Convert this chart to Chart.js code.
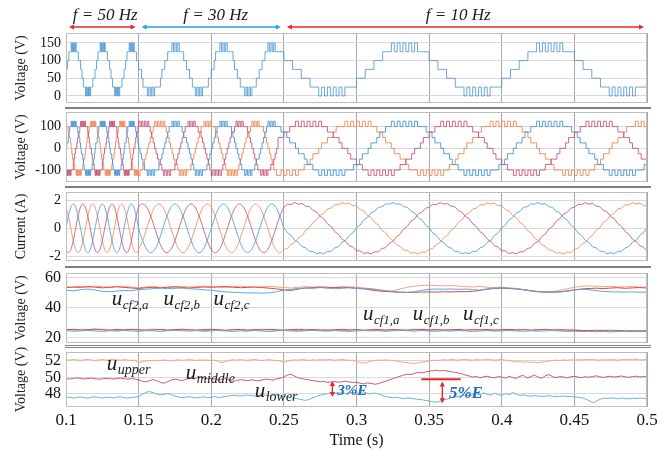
<!DOCTYPE html>
<html>
<head>
<meta charset="utf-8">
<script src="https://cdn.jsdelivr.net/npm/chart.js@4.4.1/dist/chart.umd.min.js"></script>
<style>
  html, body { margin: 0; padding: 0; background: #fff; }
  #wrap { position: relative; width: 671px; height: 452px; overflow: hidden; }
  #wrap canvas { position: absolute; left: 0; }
</style>
</head>
<body>
<div id="wrap">
  <canvas id="pole" width="671" height="104" style="top:0px"></canvas>
  <canvas id="phase" width="671" height="79" style="top:104px"></canvas>
  <canvas id="current" width="671" height="79" style="top:183px"></canvas>
  <canvas id="flying" width="671" height="82" style="top:262px"></canvas>
  <canvas id="dc" width="671" height="108" style="top:344px"></canvas>
</div>
<script>
// ---- axis ticks ----
const timeTicks = [0.1, 0.15, 0.2, 0.25, 0.3, 0.35, 0.4, 0.45, 0.5];
const poleTicks = [0, 50, 100, 150];
const phaseTicks = [-100, 0, 100];
const currentTicks = [-2, 0, 2];
const flyTicks = [20, 40, 60];
const dcTicks = [48, 50, 52];

// ---- sample clocks (start time, step) ----
const vClock50 = { t0: 0.100, dt: 0.0005 };
const vClock30 = { t0: 0.150, dt: 0.001 };
const vClock10 = { t0: 0.246, dt: 0.002 };
const iClock50 = { t0: 0.100, dt: 0.05 / 30 };
const iClock30 = { t0: 0.150 + 0.1 / 36, dt: 0.1 / 36 };
const iClock10 = { t0: 0.250, dt: 0.0025 };
const capClock = { t0: 0.100, dt: 0.005 };
const dcClock = { t0: 0.100, dt: 0.0025 };

// ---- module output voltage, phase a (V) ----
const pole50 = [
  75,75,100,100,125,125,125,150,125,150,125,150,125,150,125,125,125,100,100,100,
  75,75,50,50,25,25,25,0,25,0,25,0,25,0,25,25,25,50,50,50,
  75,75,100,100,125,125,125,150,125,150,125,150,125,150,125,125,125,100,100,100,
  75,75,50,50,25,25,25,0,25,0,25,0,25,0,25,25,25,50,50,50,
  75,75,100,100,125,125,125,150,125,150,125,150,125,150,125,125,125,100,100,100];
const pole30 = [
  75,75,50,25,25,25,0,25,0,25,
  0,25,25,25,25,50,75,75,100,100,
  125,125,125,150,125,150,125,150,125,125,
  125,100,100,75,75,50,50,25,25,0,
  25,0,25,0,25,25,25,25,50,50,
  75,75,100,125,125,125,150,125,150,125,
  150,125,125,125,125,100,75,75,50,50,
  25,25,25,0,25,0,25,0,25,25,
  25,50,50,75,75,100,100,125,125,150,
  125,150,125,150,125,125];
const pole10 = [
  125,125,100,100,100,75,75,75,50,50,
  50,25,25,25,0,25,0,25,0,25,
  0,25,0,25,25,25,25,50,50,50,
  75,75,75,100,100,100,125,125,125,150,
  125,150,125,150,125,150,125,150,125,125,
  125,125,100,100,100,75,75,75,50,50,
  50,25,25,25,0,25,0,25,0,25,
  0,25,0,25,25,25,25,50,50,50,
  75,75,75,100,100,100,125,125,125,150,
  125,150,125,150,125,150,125,150,125,125,
  125,125,100,100,100,75,75,75,50,50,
  50,25,25,25,0,25,0,25,0,25,
  0,25,0,25,25,25,25,50];

// ---- phase voltages a, b, c (V) ----
const va50 = [
  0,25,25,50,75,100,100,125,100,125,100,125,100,125,100,100,75,75,50,25,
  0,-25,-25,-50,-75,-100,-100,-125,-100,-125,-100,-125,-100,-125,-100,-100,-75,-75,-50,-25,
  0,25,25,50,75,100,100,125,100,125,100,125,100,125,100,100,75,75,50,25,
  0,-25,-25,-50,-75,-100,-100,-125,-100,-125,-100,-125,-100,-125,-100,-100,-75,-75,-50,-25,
  0,25,25,50,75,100,100,125,100,125,100,125,100,125,100,100,75,75,50,25];
const vb50 = [
  -125,-100,-125,-100,-125,-100,-125,-100,-100,-100,-75,-50,-25,0,0,25,50,75,75,100,
  125,100,125,100,125,100,125,100,100,100,75,50,25,0,0,-25,-50,-75,-75,-100,
  -125,-100,-125,-100,-125,-100,-125,-100,-100,-100,-75,-50,-25,0,0,25,50,75,75,100,
  125,100,125,100,125,100,125,100,100,100,75,50,25,0,0,-25,-50,-75,-75,-100,
  -125,-100,-125,-100,-125,-100,-125,-100,-100,-100,-75,-50,-25,0,0,25,50,75,75,100];
const vc50 = [
  125,100,100,75,50,50,25,0,-25,-50,-75,-75,-100,-100,-125,-100,-125,-100,-125,-100,
  -125,-100,-100,-75,-50,-50,-25,0,25,50,75,75,100,100,125,100,125,100,125,100,
  125,100,100,75,50,50,25,0,-25,-50,-75,-75,-100,-100,-125,-100,-125,-100,-125,-100,
  -125,-100,-100,-75,-50,-50,-25,0,25,50,75,75,100,100,125,100,125,100,125,100,
  125,100,100,75,50,50,25,0,-25,-50,-75,-75,-100,-100,-125,-100,-125,-100,-125,-100];
const va30 = [
  0,-25,-50,-75,-100,-100,-125,-100,-125,-100,
  -125,-100,-100,-100,-75,-50,-25,0,25,50,
  75,100,100,125,100,125,100,125,100,100,
  75,50,50,25,0,-25,-50,-75,-100,-125,
  -100,-125,-100,-125,-100,-100,-100,-75,-50,-25,
  0,25,50,75,100,100,125,100,125,100,
  125,100,100,100,75,50,25,0,-25,-50,
  -75,-100,-100,-125,-100,-125,-100,-125,-100,-100,
  -75,-50,-50,-25,0,25,50,75,100,125,
  100,125,100,125,100,100];
const vb30 = [
  125,100,125,100,125,100,125,100,75,50,
  25,0,-25,-50,-75,-75,-100,-125,-100,-125,
  -100,-125,-100,-100,-100,-75,-50,-25,0,25,
  50,75,100,100,125,100,125,100,125,100,
  100,75,75,50,25,0,-25,-50,-75,-100,
  -125,-100,-125,-100,-125,-100,-125,-100,-75,-50,
  -25,0,25,50,75,75,100,125,100,125,
  100,125,100,100,100,75,50,25,0,-25,
  -50,-75,-100,-100,-125,-100,-125,-100,-125,-100,
  -100,-75,-75,-50,-25,0];
const vc30 = [
  -125,-100,-100,-75,-50,-25,0,25,50,75,
  100,125,100,125,100,125,100,125,100,75,
  50,25,0,-25,-50,-75,-75,-100,-125,-100,
  -125,-100,-125,-100,-100,-100,-75,-50,-25,0,
  25,50,75,100,100,125,100,125,100,125,
  100,100,100,75,50,25,0,-25,-50,-75,
  -100,-125,-100,-125,-100,-125,-100,-125,-100,-75,
  -50,-25,0,25,50,75,75,100,125,100,
  125,100,125,100,100,100,75,50,25,0,
  -25,-50,-75,-100,-100,-125];
const va10 = [
  100,75,75,50,25,25,0,-25,-25,-50,
  -75,-75,-100,-100,-125,-100,-125,-100,-125,-100,
  -125,-100,-125,-100,-100,-100,-75,-75,-50,-25,
  -25,0,25,25,50,75,75,100,100,125,
  100,125,100,125,100,125,100,125,100,100,
  100,75,75,50,25,25,0,-25,-25,-50,
  -75,-75,-100,-100,-125,-100,-125,-100,-125,-100,
  -125,-100,-125,-100,-100,-100,-75,-75,-50,-25,
  -25,0,25,25,50,75,75,100,100,125,
  100,125,100,125,100,125,100,125,100,100,
  100,75,75,50,25,25,0,-25,-25,-50,
  -75,-75,-100,-100,-125,-100,-125,-100,-125,-100,
  -125,-100,-125,-100,-100,-100,-75,-75];
const vb10 = [
  50,50,75,75,100,100,125,100,125,100,
  125,100,125,100,125,100,100,75,75,50,
  50,25,0,0,-25,-50,-50,-75,-75,-100,
  -100,-125,-100,-125,-100,-125,-100,-125,-100,-125,
  -100,-100,-75,-75,-50,-50,-25,0,0,25,
  50,50,75,75,100,100,125,100,125,100,
  125,100,125,100,125,100,100,75,75,50,
  50,25,0,0,-25,-50,-50,-75,-75,-100,
  -100,-125,-100,-125,-100,-125,-100,-125,-100,-125,
  -100,-100,-75,-75,-50,-50,-25,0,0,25,
  50,50,75,75,100,100,125,100,125,100,
  125,100,125,100,125,100,100,75,75,50,
  50,25,0,0,-25,-50,-50,-75];
const vc10 = [
  -125,-100,-125,-100,-125,-100,-125,-100,-100,-75,
  -75,-50,-25,-25,0,25,25,50,50,75,
  100,100,100,125,100,125,100,125,100,125,
  100,125,100,100,75,75,50,25,25,0,
  -25,-25,-50,-50,-75,-100,-100,-100,-125,-100,
  -125,-100,-125,-100,-125,-100,-125,-100,-100,-75,
  -75,-50,-25,-25,0,25,25,50,50,75,
  100,100,100,125,100,125,100,125,100,125,
  100,125,100,100,75,75,50,25,25,0,
  -25,-25,-50,-50,-75,-100,-100,-100,-125,-100,
  -125,-100,-125,-100,-125,-100,-125,-100,-100,-75,
  -75,-50,-25,-25,0,25,25,50,50,75,
  100,100,100,125,100,125,100,125];

// ---- load currents a, b, c (A) ----
const ia50 = [0,0.88,1.52,1.75,1.52,0.88,0,-0.88,-1.52,-1.75,-1.52,-0.88,
  0,0.88,1.52,1.75,1.52,0.88,0,-0.88,-1.52,-1.75,-1.52,-0.88,
  0,0.88,1.52,1.75,1.52,0.88,0];
const ib50 = [-1.52,-1.75,-1.52,-0.88,0,0.88,1.52,1.75,1.52,0.88,0,-0.88,
  -1.52,-1.75,-1.52,-0.88,0,0.88,1.52,1.75,1.52,0.88,0,-0.88,
  -1.52,-1.75,-1.52,-0.88,0,0.88,1.52];
const ic50 = [1.52,0.88,0,-0.88,-1.52,-1.75,-1.52,-0.88,0,0.88,1.52,1.75,
  1.52,0.88,0,-0.88,-1.52,-1.75,-1.52,-0.88,0,0.88,1.52,1.75,
  1.52,0.88,0,-0.88,-1.52,-1.75,-1.52];
const ia30 = [-0.88,-1.52,-1.75,-1.52,-0.88,0,0.88,1.52,1.75,1.52,0.88,0,
  -0.88,-1.52,-1.75,-1.52,-0.88,0,0.88,1.52,1.75,1.52,0.88,0,
  -0.88,-1.52,-1.75,-1.52,-0.88,0,0.88,1.52,1.75,1.52,0.88,0];
const ib30 = [1.75,1.52,0.88,0,-0.88,-1.52,-1.75,-1.52,-0.88,0,0.88,1.52,
  1.75,1.52,0.88,0,-0.88,-1.52,-1.75,-1.52,-0.88,0,0.88,1.52,
  1.75,1.52,0.88,0,-0.88,-1.52,-1.75,-1.52,-0.88,0,0.88,1.52];
const ic30 = [-0.88,0,0.88,1.52,1.75,1.52,0.88,0,-0.88,-1.52,-1.75,-1.52,
  -0.88,0,0.88,1.52,1.75,1.52,0.88,0,-0.88,-1.52,-1.75,-1.52,
  -0.88,0,0.88,1.52,1.75,1.52,0.88,0,-0.88,-1.52,-1.75,-1.52];
const ia10 = [
  0.05,-0.33,-0.51,-0.87,-1.01,-1.32,-1.41,-1.65,-1.66,-1.83,
  -1.75,-1.83,-1.66,-1.65,-1.41,-1.32,-1.01,-0.87,-0.51,-0.33,
  0.05,0.23,0.61,0.77,1.11,1.22,1.51,1.55,1.76,1.73,
  1.85,1.73,1.76,1.55,1.51,1.22,1.11,0.77,0.61,0.23,
  0.05,-0.33,-0.51,-0.87,-1.01,-1.32,-1.41,-1.65,-1.66,-1.83,
  -1.75,-1.83,-1.66,-1.65,-1.41,-1.32,-1.01,-0.87,-0.51,-0.33,
  0.05,0.23,0.61,0.77,1.11,1.22,1.51,1.55,1.76,1.73,
  1.85,1.73,1.76,1.55,1.51,1.22,1.11,0.77,0.61,0.23,
  0.05,-0.33,-0.51,-0.87,-1.01,-1.32,-1.41,-1.65,-1.66,-1.83,
  -1.75,-1.83,-1.66,-1.65,-1.41,-1.32,-1.01,-0.87,-0.51,-0.33,
  0.05];
const ib10 = [
  1.51,1.73,1.71,1.85,1.74,1.79,1.59,1.56,1.29,1.18,
  0.85,0.70,0.32,0.14,-0.24,-0.42,-0.78,-0.93,-1.25,-1.35,
  -1.61,-1.63,-1.81,-1.75,-1.84,-1.69,-1.69,-1.46,-1.39,-1.08,
  -0.95,-0.60,-0.42,-0.04,0.14,0.52,0.68,1.03,1.15,1.45,
  1.51,1.73,1.71,1.85,1.74,1.79,1.59,1.56,1.29,1.18,
  0.85,0.70,0.32,0.14,-0.24,-0.42,-0.78,-0.93,-1.25,-1.35,
  -1.61,-1.63,-1.81,-1.75,-1.84,-1.69,-1.69,-1.46,-1.39,-1.08,
  -0.95,-0.60,-0.42,-0.04,0.14,0.52,0.68,1.03,1.15,1.45,
  1.51,1.73,1.71,1.85,1.74,1.79,1.59,1.56,1.29,1.18,
  0.85,0.70,0.32,0.14,-0.24,-0.42,-0.78,-0.93,-1.25,-1.35,
  -1.61];
const ic10 = [
  -1.51,-1.45,-1.15,-1.03,-0.68,-0.52,-0.14,0.04,0.42,0.60,
  0.95,1.08,1.39,1.46,1.69,1.69,1.84,1.75,1.81,1.63,
  1.61,1.35,1.25,0.93,0.78,0.42,0.24,-0.14,-0.32,-0.70,
  -0.85,-1.18,-1.29,-1.56,-1.59,-1.79,-1.74,-1.85,-1.71,-1.73,
  -1.51,-1.45,-1.15,-1.03,-0.68,-0.52,-0.14,0.04,0.42,0.60,
  0.95,1.08,1.39,1.46,1.69,1.69,1.84,1.75,1.81,1.63,
  1.61,1.35,1.25,0.93,0.78,0.42,0.24,-0.14,-0.32,-0.70,
  -0.85,-1.18,-1.29,-1.56,-1.59,-1.79,-1.74,-1.85,-1.71,-1.73,
  -1.51,-1.45,-1.15,-1.03,-0.68,-0.52,-0.14,0.04,0.42,0.60,
  0.95,1.08,1.39,1.46,1.69,1.69,1.84,1.75,1.81,1.63,
  1.61];

// ---- flying capacitor voltages (V), every 5 ms ----
const ucf2a = [
  51.6,51.2,52.0,52.4,51.8,50.9,50.7,51.1,51.5,51.3,
  52.1,52.3,52.6,53.0,52.7,52.9,53.1,52.6,52.4,51.9,
  51.6,51.0,50.6,50.2,50.0,49.8,49.9,49.7,49.9,50.6,
  51.8,52.3,52.8,53.2,52.9,53.4,53.1,52.6,52.9,53.3,
  52.8,52.5,52.7,52.0,51.4,50.8,50.4,50.2,50.6,51.6,
  52.2,52.4,52.3,52.5,52.2,52.4,52.1,51.7,52.6,53.1,
  53.3,53.0,52.8,52.1,51.2,50.6,50.3,50.2,50.4,50.9,
  51.7,52.3,52.0,51.4,50.8,50.6,50.5,50.4,50.5,50.3,
  50.4];
const ucf2b = [
  53.4,53.8,53.5,54.0,53.7,53.2,53.6,53.9,53.5,53.1,
  52.8,53.3,53.6,53.2,53.7,53.9,53.4,53.1,53.5,53.8,
  53.6,53.9,54.1,53.7,53.3,53.5,53.8,53.4,53.0,52.5,
  51.8,51.5,52.4,53.0,53.3,53.6,53.2,53.5,53.7,53.3,
  53.0,52.6,51.8,51.2,50.8,50.5,50.3,50.2,50.3,50.4,
  50.5,50.4,50.6,50.5,50.7,50.6,50.9,51.5,52.3,52.8,
  53.0,52.7,52.5,52.0,51.4,50.8,50.5,50.4,50.6,51.2,
  51.9,52.5,52.8,53.0,52.7,53.1,53.3,52.9,53.2,53.4,
  53.1];
const ucf2c = [
  54.0,53.5,54.2,53.8,54.4,53.9,53.6,54.1,54.3,53.7,
  53.2,53.8,54.1,53.6,53.4,53.9,54.2,53.8,54.0,54.4,
  54.1,53.7,53.5,53.9,54.3,54.0,53.6,53.9,54.2,53.8,
  53.5,53.1,53.6,54.0,53.7,54.1,53.8,53.4,53.7,54.0,
  53.6,53.2,52.5,51.6,51.0,51.3,52.4,53.6,54.3,54.8,
  55.0,54.7,54.5,54.8,54.4,54.0,53.8,54.1,53.6,53.4,
  53.7,53.2,52.6,51.8,51.1,50.6,50.5,50.8,51.5,52.6,
  53.6,54.2,54.5,54.3,54.0,54.2,53.8,53.9,54.1,53.7,
  53.8];
const ucf1a = [
  24.8,24.3,24.6,25.0,24.5,24.2,24.7,24.4,24.9,24.5,
  24.3,24.8,24.6,24.2,24.7,25.0,24.6,24.4,24.8,24.3,
  24.6,24.9,24.5,24.2,24.6,24.4,24.8,24.5,24.1,24.6,
  24.9,24.5,24.3,24.7,25.0,24.6,24.4,24.8,24.5,24.2,
  24.6,24.9,24.5,24.7,24.3,24.6,25.0,24.7,24.4,24.8,
  24.5,24.3,24.7,24.4,24.8,24.6,24.2,24.5,24.8,24.4,
  24.6,24.9,24.5,24.3,24.7,24.4,24.6,24.8,24.5,24.2,
  24.4,24.1,24.3,24.0,24.2,23.9,24.1,24.3,24.0,24.2,
  24.1];
const ucf1b = [
  25.3,25.6,25.1,25.4,25.8,25.3,25.0,25.5,25.2,25.6,
  25.3,24.9,25.2,25.5,25.1,25.4,25.7,25.2,25.0,25.4,
  25.6,25.2,24.9,25.3,25.5,25.1,25.4,25.2,25.6,25.3,
  25.0,25.4,25.6,25.2,25.5,25.1,24.9,25.3,25.6,25.2,
  25.4,25.0,25.3,25.5,25.1,25.4,25.2,24.9,25.3,25.6,
  25.2,25.4,25.0,25.3,25.5,25.1,25.4,25.2,25.5,25.0,
  25.3,25.6,25.2,25.4,25.0,25.3,25.5,25.1,25.4,25.2,
  24.9,24.7,24.9,24.6,24.8,24.5,24.7,24.4,24.6,24.5,
  24.6];
const ucf1c = [
  25.6,25.1,25.4,24.9,25.3,25.7,25.2,24.8,25.1,25.5,
  25.0,25.4,25.8,25.2,24.9,25.3,25.0,25.5,25.2,24.8,
  25.1,25.4,25.0,25.6,25.2,24.9,25.3,25.6,25.1,24.8,
  25.2,25.0,24.7,25.1,24.8,25.2,25.4,25.0,24.7,25.1,
  25.3,24.9,25.2,24.8,25.1,25.4,25.0,25.3,25.6,25.1,
  24.8,25.2,25.5,25.0,25.3,24.9,25.2,25.4,25.0,25.3,
  25.1,24.8,25.2,25.5,25.0,25.3,25.6,25.2,24.9,25.1,
  25.4,25.0,24.8,25.1,24.9,25.2,24.7,25.0,24.8,24.6,
  24.9];

// ---- DC-link capacitor voltages (V), every 2.5 ms ----
const uUpper = [
  52.15,52.10,52.18,52.12,52.08,52.14,52.20,52.12,52.06,52.13,
  52.18,52.10,52.15,52.22,52.14,52.08,52.16,52.12,52.05,52.10,
  51.75,51.90,52.00,52.06,52.02,52.10,52.05,52.12,52.08,52.02,
  52.10,52.15,52.08,52.12,52.18,52.10,52.06,52.14,52.09,52.12,
  52.05,52.10,51.92,51.80,51.95,52.08,52.15,52.10,52.16,52.12,
  52.08,52.14,52.18,52.10,52.05,52.12,52.16,52.10,52.06,52.00,
  51.85,51.95,52.08,52.15,52.10,52.18,52.12,52.08,52.14,52.10,
  52.16,52.12,52.20,52.15,52.10,52.14,52.18,52.12,52.08,52.10,
  51.95,51.80,51.75,51.85,51.98,52.06,52.12,52.08,52.14,52.10,
  52.06,51.98,51.92,51.85,51.80,51.72,51.70,51.78,51.85,51.92,
  51.98,52.05,52.10,52.08,52.15,52.12,52.18,52.14,52.10,52.16,
  52.20,52.14,52.10,52.18,52.12,52.16,52.22,52.15,52.10,52.14,
  52.18,52.10,52.05,51.95,51.88,51.92,51.85,51.90,51.82,51.88,
  51.80,51.86,51.92,51.98,52.05,52.10,52.06,52.12,52.08,52.15,
  52.10,52.16,52.12,52.18,52.14,52.20,52.15,52.10,52.16,52.12,
  52.18,52.14,52.10,52.16,52.20,52.15,52.22,52.18,52.12,52.16,52.20];
const uMiddle = [
  49.85,49.80,49.88,49.95,49.90,49.82,49.86,49.92,49.85,49.78,
  49.84,49.90,49.86,49.80,49.88,49.92,49.85,49.80,49.86,49.82,
  49.70,49.55,49.45,49.62,49.75,49.60,49.40,49.30,49.50,49.68,
  49.80,49.72,49.60,49.78,49.90,49.82,49.95,50.00,49.92,49.85,
  49.90,49.82,49.70,49.78,49.88,49.65,49.55,49.62,49.75,49.68,
  49.60,49.72,49.65,49.58,49.70,49.80,49.75,49.68,49.82,49.90,
  50.05,50.30,50.40,50.15,49.95,49.85,49.78,49.70,49.62,49.55,
  49.48,49.52,49.40,49.45,49.50,49.42,49.48,49.55,49.45,49.38,
  49.42,49.30,49.22,49.35,49.28,49.18,49.25,49.40,49.55,49.70,
  49.85,50.00,50.15,50.30,50.40,50.35,50.50,50.62,50.55,50.68,
  50.75,50.82,50.88,50.80,50.85,50.78,50.70,50.62,50.55,50.45,
  50.30,50.18,50.05,50.12,49.98,50.08,50.15,50.02,49.95,50.10,
  50.05,49.92,50.12,50.00,49.88,50.15,50.25,49.95,50.10,50.30,
  50.05,49.90,50.20,50.35,50.10,49.98,50.12,50.05,49.95,50.08,
  50.15,50.05,49.98,50.10,50.02,50.12,50.20,50.08,50.00,50.10,
  50.15,50.05,50.12,50.18,50.08,50.02,50.10,50.16,50.06,50.12,50.08];
const uLower = [
  47.55,47.62,47.50,47.58,47.65,47.55,47.48,47.60,47.66,47.55,
  47.50,47.62,47.58,47.52,47.60,47.66,47.55,47.50,47.58,47.62,
  47.70,47.95,48.20,48.30,48.15,48.00,47.90,47.95,48.05,47.92,
  47.75,47.62,47.55,47.60,47.68,47.58,47.52,47.60,47.65,47.55,
  47.60,47.68,47.55,47.62,47.70,47.78,47.85,47.80,47.75,47.82,
  47.88,47.80,47.75,47.82,47.90,47.85,47.78,47.84,47.90,47.80,
  47.70,47.62,47.55,47.48,47.40,47.30,47.22,47.35,47.55,47.70,
  47.85,47.95,48.05,48.12,48.08,48.15,48.10,48.05,48.12,48.18,
  48.10,48.05,48.15,48.08,48.00,48.12,47.98,47.85,47.70,47.62,
  47.55,47.60,47.50,47.45,47.52,47.48,47.40,47.35,47.30,47.22,
  47.15,47.05,47.00,47.10,47.25,47.40,47.55,47.62,47.70,47.78,
  47.85,47.80,47.92,48.05,47.88,48.15,47.95,47.85,48.10,47.92,
  47.85,48.05,47.90,48.20,47.95,47.82,47.90,47.78,47.72,47.80,
  47.75,47.68,47.72,47.80,47.74,47.66,47.70,47.76,47.68,47.72,
  47.65,47.60,47.55,47.40,47.20,46.95,47.10,47.35,47.50,47.45,
  47.52,47.48,47.42,47.50,47.45,47.40,47.48,47.44,47.50,47.46,47.48];

// ---- annotations ----
const freqBands = [
  { from: 0.10, to: 0.15, at: 0.127, text: 'f = 50 Hz', arrow: 'red' },
  { from: 0.15, to: 0.25, at: 0.203, text: 'f = 30 Hz', arrow: 'cyan' },
  { from: 0.25, to: 0.50, at: 0.370, text: 'f = 10 Hz', arrow: 'red' }
];
const capNames = [
  { t: 0.1315, v: 41.5, sub: 'cf2,a' }, { t: 0.1671, v: 41.5, sub: 'cf2,b' }, { t: 0.2016, v: 41.5, sub: 'cf2,c' },
  { t: 0.3044, v: 31.6, sub: 'cf1,a' }, { t: 0.3388, v: 31.6, sub: 'cf1,b' }, { t: 0.3733, v: 31.6, sub: 'cf1,c' }
];
const dcNames = [
  { t: 0.128, v: 50.95, sub: 'upper' }, { t: 0.1825, v: 49.85, sub: 'middle' }, { t: 0.2299, v: 47.65, sub: 'lower' }
];
const spreadMarks = [
  { t: 0.2834, hi: 49.58, lo: 47.64, textT: 0.2867, textV: 47.88, text: '3%E', size: 15 },
  { t: 0.3591, hi: 49.50, lo: 46.87, textT: 0.3636, textV: 47.51, text: '5%E', size: 17, ref: { from: 0.3446, to: 0.3717, v: 49.78 } }
];

const COLORS = { red: '#e5262b', cyan: '#22a3e3', text: '#1b1b1b', tag: '#1f6fc2' };
const SERIF = '"Liberation Serif", "Times New Roman", serif';

Chart.defaults.font.family = SERIF;
Chart.defaults.color = '#1b1b1b';

function series(clock, values) {
  return values.map((v, i) => ({ x: clock.t0 + i * clock.dt, y: v }));
}
function stitched(parts) {
  return parts.flatMap(([clock, values]) => series(clock, values));
}

function arrowHead(ctx, x, y, ux, uy) {
  const len = 5, half = 2.6;
  ctx.beginPath();
  ctx.moveTo(x, y);
  ctx.lineTo(x - ux * len - uy * half, y - uy * len + ux * half);
  ctx.lineTo(x - ux * len + uy * half, y - uy * len - ux * half);
  ctx.closePath();
  ctx.fill();
}
function doubleArrow(ctx, x1, y1, x2, y2, color, width) {
  const L = Math.hypot(x2 - x1, y2 - y1), ux = (x2 - x1) / L, uy = (y2 - y1) / L;
  ctx.strokeStyle = color; ctx.fillStyle = color; ctx.lineWidth = width;
  ctx.beginPath();
  ctx.moveTo(x1 + ux * 3, y1 + uy * 3);
  ctx.lineTo(x2 - ux * 3, y2 - uy * 3);
  ctx.stroke();
  arrowHead(ctx, x2, y2, ux, uy);
  arrowHead(ctx, x1, y1, -ux, -uy);
}
function subLabel(ctx, x, y, main, sub, big, small) {
  ctx.fillStyle = COLORS.text;
  ctx.textAlign = 'left';
  ctx.textBaseline = 'alphabetic';
  ctx.font = `italic ${big}px ${SERIF}`;
  ctx.fillText(main, x, y);
  const w = ctx.measureText(main).width;
  ctx.font = `italic ${small}px ${SERIF}`;
  ctx.fillText(sub, x + w + 0.5, y + Math.round(big * 0.2));
}

// frame, separators and text drawn on top of each panel
function decor(cfg) {
  return {
    id: 'decor',
    afterDraw(chart) {
      const { ctx, chartArea: a, scales: { x, y } } = chart;
      ctx.save();
      ctx.strokeStyle = '#bdbdbd';
      ctx.lineWidth = 1;
      ctx.strokeRect(a.left + 0.5, a.top + 0.5, a.right - a.left - 1, a.bottom - a.top - 1);

      ctx.fillStyle = '#808080';
      if (cfg.rule === 'double') {
        ctx.fillRect(65, a.top - 7, 586, 1);
        ctx.fillRect(65, a.top - 5, 586, 1);
      } else if (cfg.rule) {
        ctx.fillRect(65, a.top - cfg.rule - 1, 586, 2);
      }

      (cfg.bands || []).forEach(b => {
        const x1 = x.getPixelForValue(b.from) + 3, x2 = x.getPixelForValue(b.to) - 3;
        doubleArrow(ctx, x1, a.top - 6, x2, a.top - 6, COLORS[b.arrow], 1.3);
        ctx.fillStyle = COLORS.text;
        ctx.font = `italic 17px ${SERIF}`;
        ctx.textAlign = 'center';
        ctx.textBaseline = 'alphabetic';
        ctx.fillText(b.text, x.getPixelForValue(b.at), a.top - 13);
      });

      (cfg.names || []).forEach(n =>
        subLabel(ctx, x.getPixelForValue(n.t), y.getPixelForValue(n.v), 'u', n.sub, 21, cfg.subSize || 13));

      (cfg.marks || []).forEach(m => {
        const px = x.getPixelForValue(m.t);
        if (m.ref) {
          ctx.strokeStyle = COLORS.red; ctx.lineWidth = 2;
          ctx.beginPath();
          ctx.moveTo(x.getPixelForValue(m.ref.from), y.getPixelForValue(m.ref.v));
          ctx.lineTo(x.getPixelForValue(m.ref.to), y.getPixelForValue(m.ref.v));
          ctx.stroke();
        }
        doubleArrow(ctx, px, y.getPixelForValue(m.hi), px, y.getPixelForValue(m.lo), COLORS.red, 1.4);
        ctx.fillStyle = COLORS.tag;
        ctx.font = `italic bold ${m.size}px ${SERIF}`;
        ctx.textAlign = 'left';
        ctx.textBaseline = 'alphabetic';
        ctx.fillText(m.text, x.getPixelForValue(m.textT), y.getPixelForValue(m.textV));
      });
      ctx.restore();
    }
  };
}

function buildPanel(spec) {
  const bottom = !!spec.bottom;
  return new Chart(document.getElementById(spec.id), {
    type: 'line',
    data: { datasets: spec.datasets },
    options: {
      responsive: false,
      animation: false,
      events: [],
      devicePixelRatio: 1,
      parsing: false,
      layout: { padding: { top: spec.pad[0], bottom: spec.pad[1], left: 0, right: 24 } },
      plugins: { legend: { display: false }, tooltip: { enabled: false } },
      elements: { point: { radius: 0 }, line: { borderWidth: 1 } },
      scales: {
        x: {
          type: 'linear', min: 0.1, max: 0.5,
          afterBuildTicks: s => { s.ticks = timeTicks.map(v => ({ value: v })); },
          afterFit: s => { s.height = bottom ? 45 : 0; s.paddingLeft = 0; s.paddingRight = 0; },
          grid: { color: '#a9a9a9', drawTicks: false },
          border: { display: false },
          ticks: { display: bottom, padding: 3, color: '#111', font: { size: 17 }, callback: v => String(+v.toFixed(2)) },
          title: { display: bottom, text: 'Time (s)', color: '#111', font: { size: 16 }, padding: { top: 0, bottom: 2 } }
        },
        y: {
          type: 'linear', min: spec.y.min, max: spec.y.max,
          afterBuildTicks: s => { s.ticks = spec.y.ticks.map(v => ({ value: v })); },
          afterFit: s => { s.width = 66; s.paddingTop = 0; s.paddingBottom = 0; },
          grid: { color: '#d9d9d9', drawTicks: false },
          border: { display: false },
          ticks: { padding: 5, color: '#111', font: { size: spec.y.font } },
          title: { display: true, text: spec.y.title, color: '#222', font: { size: 14 }, padding: { top: 13, bottom: 0 } }
        }
      }
    },
    plugins: [decor(spec.decor || {})]
  });
}

const stepLine = (data, color) => ({ data, borderColor: color, stepped: true, borderWidth: 1 });
const smoothLine = (data, color) => ({ data, borderColor: color, cubicInterpolationMode: 'monotone', borderWidth: 1 });
const plainLine = (data, color) => ({ data, borderColor: color, tension: 0, borderWidth: 1 });

buildPanel({
  id: 'pole', pad: [33, 1],
  y: { min: -20, max: 178, ticks: poleTicks, title: 'Voltage (V)', font: 14 },
  datasets: [stepLine(stitched([[vClock50, pole50], [vClock30, pole30], [vClock10, pole10]]), 'rgba(80,150,214,0.85)')],
  decor: { bands: freqBands }
});

buildPanel({
  id: 'phase', pad: [8, 1],
  y: { min: -155.5, max: 167.5, ticks: phaseTicks, title: 'Voltage (V)', font: 14 },
  datasets: [
    stepLine(stitched([[vClock50, va50], [vClock30, va30], [vClock10, va10]]), 'rgba(62,143,210,0.85)'),
    stepLine(stitched([[vClock50, vb50], [vClock30, vb30], [vClock10, vb10]]), 'rgba(196,66,100,0.8)'),
    stepLine(stitched([[vClock50, vc50], [vClock30, vc30], [vClock10, vc10]]), 'rgba(238,128,74,0.85)')
  ],
  decor: { rule: 4 }
});

buildPanel({
  id: 'current', pad: [9, 1],
  y: { min: -2.35, max: 2.61, ticks: currentTicks, title: 'Current (A)', font: 14 },
  datasets: [
    smoothLine(stitched([[iClock50, ia50], [iClock30, ia30]]), 'rgba(84,162,222,0.9)'),
    smoothLine(stitched([[iClock50, ib50], [iClock30, ib30]]), 'rgba(200,84,112,0.85)'),
    smoothLine(stitched([[iClock50, ic50], [iClock30, ic30]]), 'rgba(241,146,98,0.9)'),
    plainLine(series(iClock10, ia10), 'rgba(84,162,222,0.9)'),
    plainLine(series(iClock10, ib10), 'rgba(200,84,112,0.85)'),
    plainLine(series(iClock10, ic10), 'rgba(241,146,98,0.9)')
  ],
  decor: { rule: 5 }
});

buildPanel({
  id: 'flying', pad: [11, 1],
  y: { min: 16.5, max: 63.1, ticks: flyTicks, title: 'Voltage (V)', font: 16 },
  datasets: [
    plainLine(series(capClock, ucf2a), '#5aa7e3'),
    plainLine(series(capClock, ucf2b), '#df453f'),
    plainLine(series(capClock, ucf2c), '#f5a47e'),
    plainLine(series(capClock, ucf1a), '#5aa7e3'),
    plainLine(series(capClock, ucf1b), '#df453f'),
    plainLine(series(capClock, ucf1c), '#f5a47e')
  ],
  decor: { rule: 6, names: capNames, subSize: 13 }
});

buildPanel({
  id: 'dc', pad: [8, 0], bottom: true,
  y: { min: 46.42, max: 53.09, ticks: dcTicks, title: 'Voltage (V)', font: 16 },
  datasets: [
    plainLine(series(dcClock, uUpper), '#f4a582'),
    plainLine(series(dcClock, uMiddle), '#c95a78'),
    plainLine(series(dcClock, uLower), '#6eb0e2')
  ],
  decor: { rule: 'double', names: dcNames, subSize: 14, marks: spreadMarks }
});
</script>
</body>
</html>
